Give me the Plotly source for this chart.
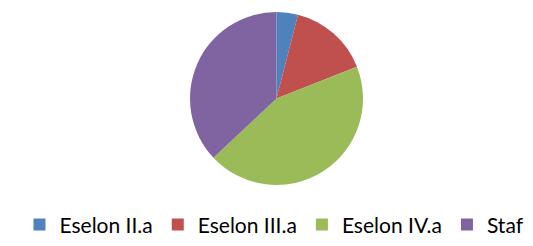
import plotly.graph_objects as go

labels = ["Eselon II.a", "Eselon III.a", "Eselon IV.a", "Staf"]
values = [4, 15, 44, 37]
colors = ["#4F81BD", "#C0504D", "#9BBB59", "#8064A2"]

fig = go.Figure(go.Pie(
    labels=labels, values=values, sort=False, direction="clockwise", rotation=0,
    marker=dict(colors=colors, line=dict(width=0)), textinfo="none", hoverinfo="label+percent",
))
fig.update_layout(
    width=533, height=246,
    margin=dict(l=4, r=0, t=4, b=69, autoexpand=False),
    paper_bgcolor="white", plot_bgcolor="white",
    showlegend=True,
    legend=dict(orientation="h", xref="container", yref="container", x=0.5, xanchor="center",
                y=0.118, yanchor="middle", font=dict(family="Lato", size=21, color="#000000"),
                itemwidth=30, tracegroupgap=0),
)
fig.write_html("out.html")
